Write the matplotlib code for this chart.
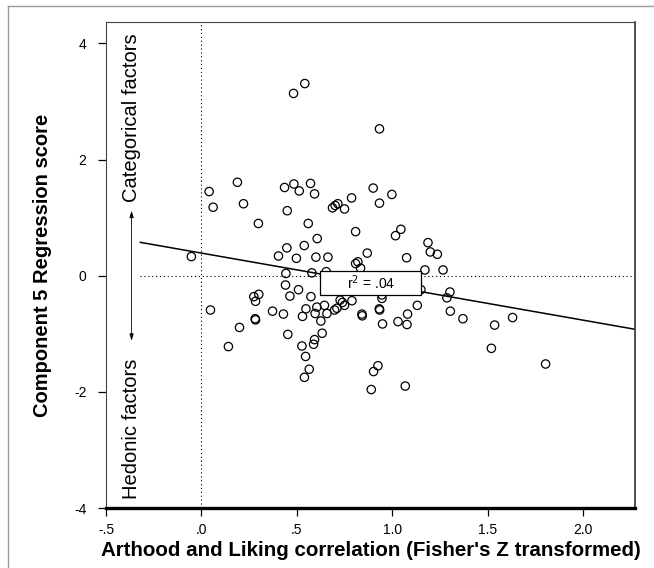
import matplotlib.pyplot as plt
from matplotlib.lines import Line2D
from matplotlib.patches import Rectangle
import numpy as np

plt.rcParams["font.family"] = ["Liberation Sans", "DejaVu Sans"]

# Fisher's Z of arthood/liking correlation
z_corr = [
    0.482, 0.541, 0.932, 0.188, 0.040, 0.061, 0.220, 0.298, 0.435, 0.484,
    0.512, 0.571, 0.592, 0.449, 0.559, 0.606, 0.686, 0.700, 0.714, 0.749,
    0.786, 0.899, 0.932, 0.997, 0.807, 1.016, 1.044, -0.053, 0.447, 0.538,
    0.403, 0.497, 0.599, 0.662, 0.868, 0.807, 0.819, 0.833, 0.442, 0.578,
    0.653, 0.440, 0.508, 0.463, 0.573, 0.274, 0.300, 0.283, 0.726, 0.738,
    0.788, 0.945, 0.945, 1.186, 1.198, 1.235, 1.074, 1.170, 1.265, 1.149,
    1.301, 1.285, 0.840, 0.842, 0.931, 0.933, 0.948, 1.029, 1.076, 1.079,
    1.130, 1.303, 1.369, 1.535, 1.629, 1.518, 1.802, 0.924, 0.901, 0.889,
    1.067, 0.047, 0.281, 0.283, 0.372, 0.429, 0.529, 0.547, 0.595, 0.604,
    0.644, 0.657, 0.625, 0.697, 0.709, 0.749, 0.199, 0.141, 0.452, 0.526,
    0.592, 0.587, 0.632, 0.545, 0.564, 0.539,
]

# component 5 regression scores
comp5 = [
    3.14, 3.31, 2.53, 1.61, 1.45, 1.18, 1.24, 0.90, 1.52, 1.58,
    1.46, 1.59, 1.41, 1.12, 0.90, 0.64, 1.17, 1.21, 1.24, 1.15,
    1.34, 1.51, 1.25, 1.40, 0.76, 0.69, 0.80, 0.33, 0.48, 0.52,
    0.34, 0.30, 0.32, 0.32, 0.39, 0.21, 0.24, 0.13, 0.04, 0.05,
    0.07, -0.16, -0.24, -0.35, -0.36, -0.36, -0.32, -0.44, -0.42, -0.46,
    -0.43, -0.33, -0.39, 0.57, 0.41, 0.37, 0.31, 0.10, 0.10, -0.24,
    -0.28, -0.38, -0.66, -0.69, -0.57, -0.59, -0.83, -0.79, -0.84, -0.66,
    -0.51, -0.61, -0.74, -0.85, -0.72, -1.25, -1.52, -1.55, -1.65, -1.96,
    -1.90, -0.59, -0.74, -0.76, -0.61, -0.66, -0.70, -0.57, -0.65, -0.54,
    -0.51, -0.65, -0.78, -0.59, -0.56, -0.51, -0.89, -1.22, -1.01, -1.21,
    -1.10, -1.18, -0.99, -1.39, -1.61, -1.75,
]

# fitted line as drawn in the figure
fit_intercept = 0.39
fit_slope = -0.578
fit_x = [-0.32, 2.27]
r2_text = "r$^2$ = .04"

x_ticks = [-0.5, 0.0, 0.5, 1.0, 1.5, 2.0]
x_tick_labels = ["-.5", ".0", ".5", "1.0", "1.5", "2.0"]
y_ticks = [-4, -2, 0, 2, 4]
y_tick_labels = ["-4", "-2", "0", "2", "4"]

fig = plt.figure(figsize=(6.54, 5.68), dpi=100)
ax = fig.add_axes([106 / 654, 60 / 568, 529 / 654, 486 / 568])

ax.set_xlim(-0.5, 2.27)
ax.set_ylim(-4, 4.37)

# reference lines
ax.axvline(0, color="black", lw=0.8, ls=(0, (1, 2.5)), zorder=1)
ax.plot([fit_x[0], 2.27], [0, 0], color="black", lw=0.8, ls=(0, (1, 2.5)), zorder=1)

ax.scatter(z_corr, comp5, s=36, facecolors="none", edgecolors="black",
           linewidths=0.9, zorder=3)

xs = np.array(fit_x)
ax.plot(xs, fit_intercept + fit_slope * xs, color="black", lw=1.1, zorder=2)

# r^2 box
ax.add_patch(Rectangle((0.622, -0.33), 0.529, 0.417, facecolor="white",
                       edgecolor="black", lw=0.9, zorder=4))
ax.text(0.89, -0.12, r2_text, ha="center", va="center", fontsize=10, zorder=5)

# direction arrow
ax.annotate("", xy=(-0.366, 1.12), xytext=(-0.366, -1.12),
            arrowprops=dict(arrowstyle="<|-|>,head_length=0.4,head_width=0.12",
                            color="black", lw=0.6, shrinkA=0, shrinkB=0))
ax.text(-0.366, 2.73, "Categorical factors", rotation=90, ha="center",
        va="center", fontsize=14.5)
ax.text(-0.366, -2.63, "Hedonic factors", rotation=90, ha="center",
        va="center", fontsize=14.5)

ax.set_xticks(x_ticks)
ax.set_xticklabels(x_tick_labels)
ax.set_yticks(y_ticks)
ax.set_yticklabels(y_tick_labels)
ax.tick_params(axis="both", direction="out", length=6, width=0.9,
               labelsize=10, color="black")
ax.tick_params(axis="x", pad=5)
ax.tick_params(axis="y", pad=8)

ax.spines["bottom"].set_linewidth(2.4)
ax.spines["left"].set_linewidth(0.8)
ax.spines["left"].set_color("#444444")
ax.spines["top"].set_linewidth(0.8)
ax.spines["top"].set_color("#444444")
ax.spines["right"].set_linewidth(1.2)
ax.spines["right"].set_color("#333333")

ax.set_xlabel("Arthood and Liking correlation (Fisher's Z transformed)",
              fontsize=14.8, fontweight="bold", labelpad=3)
ax.set_ylabel("Component 5 Regression score", fontsize=14.5,
              fontweight="bold", labelpad=16)

# outer frame (left and top edge)
fig.add_artist(Line2D([8 / 654, 8 / 654], [0, 1 - 6 / 568], color="#999999",
                      lw=1.0, transform=fig.transFigure))
fig.add_artist(Line2D([8 / 654, 1], [1 - 6 / 568, 1 - 6 / 568], color="#999999",
                      lw=1.0, transform=fig.transFigure))

fig.savefig("out.png", dpi=100)
